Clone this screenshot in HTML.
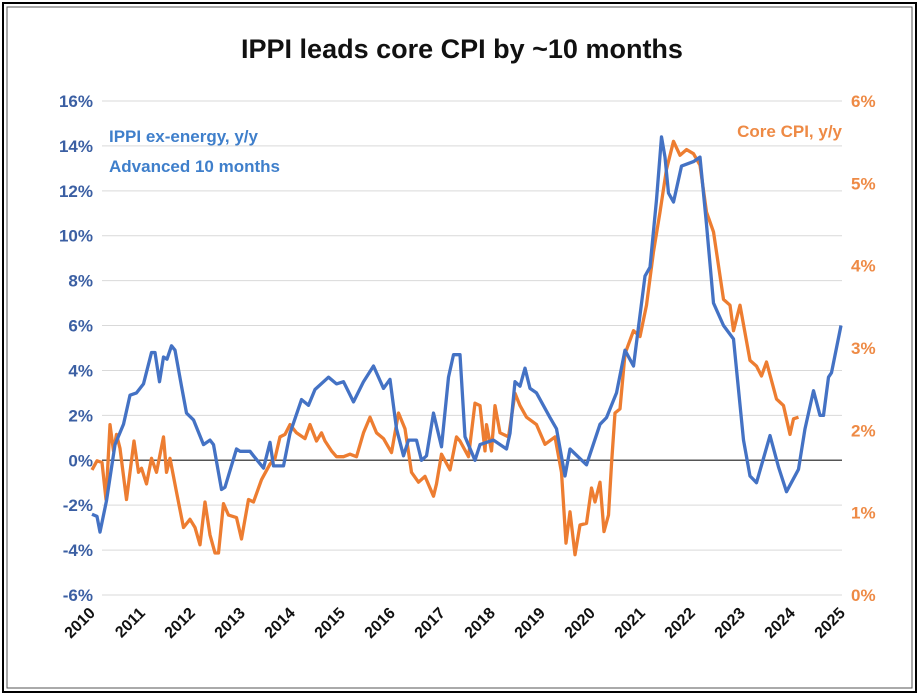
<!DOCTYPE html>
<html><head><meta charset="utf-8"><style>
html,body{margin:0;padding:0;background:#fff;}
svg{display:block;font-family:"Liberation Sans",sans-serif;}
</style></head><body>
<svg id="chart" width="920" height="698" viewBox="0 0 920 698">
<rect x="3" y="3" width="913" height="689" fill="#fff" stroke="#000" stroke-width="2"/>
<rect x="7" y="7" width="905" height="681" fill="none" stroke="#555" stroke-width="1"/>
<text x="462" y="58" text-anchor="middle" font-size="27" font-weight="bold" fill="#111">IPPI leads core CPI by ~10 months</text>
<g id="grid"></g><g id="axes"></g><g id="lines"></g>
<text x="109" y="142" font-size="17" font-weight="bold" fill="#3f7fcb">IPPI ex-energy, y/y</text>
<text x="109" y="172" font-size="17" font-weight="bold" fill="#3f7fcb">Advanced 10 months</text>
<text x="842" y="137" text-anchor="end" font-size="17" font-weight="bold" fill="#ee8a45">Core CPI, y/y</text>
</svg>
<script>
const leftTicks=[16,14,12,10,8,6,4,2,0,-2,-4,-6];
const rightTicks=[6,5,4,3,2,1,0];
const years=[2010,2011,2012,2013,2014,2015,2016,2017,2018,2019,2020,2021,2022,2023,2024,2025];
const ippiDates=[2010.0,2010.1,2010.16,2010.29,2010.46,2010.63,2010.76,2010.89,2011.03,2011.19,2011.26,2011.35,2011.43,2011.5,2011.59,2011.66,2011.79,2011.89,2012.03,2012.23,2012.36,2012.43,2012.59,2012.66,2012.89,2012.96,2013.16,2013.23,2013.43,2013.56,2013.63,2013.83,2013.96,2014.19,2014.33,2014.46,2014.73,2014.89,2015.03,2015.23,2015.43,2015.63,2015.83,2015.96,2016.09,2016.23,2016.33,2016.49,2016.59,2016.69,2016.83,2016.99,2017.13,2017.23,2017.36,2017.46,2017.66,2017.76,2018.03,2018.29,2018.36,2018.46,2018.56,2018.66,2018.76,2018.89,2019.16,2019.29,2019.46,2019.56,2019.89,2020.16,2020.29,2020.49,2020.66,2020.83,2021.06,2021.16,2021.29,2021.39,2021.46,2021.53,2021.63,2021.79,2022.03,2022.16,2022.29,2022.43,2022.63,2022.83,2023.03,2023.16,2023.29,2023.56,2023.73,2023.89,2024.13,2024.26,2024.43,2024.56,2024.63,2024.73,2024.79,2024.98];
const ippiValues=[-2.4,-2.5,-3.2,-1.8,0.7,1.6,2.9,3.0,3.4,4.8,4.8,3.5,4.6,4.5,5.1,4.9,3.3,2.1,1.8,0.7,0.9,0.7,-1.3,-1.2,0.5,0.4,0.4,0.2,-0.35,0.8,-0.25,-0.25,1.2,2.7,2.45,3.15,3.7,3.4,3.5,2.6,3.5,4.2,3.2,3.6,1.4,0.2,0.9,0.9,0,0.2,2.1,0.6,3.7,4.7,4.7,1.05,0,0.7,0.9,0.5,1.2,3.5,3.3,4.1,3.2,3.0,1.9,1.4,-0.7,0.5,-0.2,1.6,1.9,3.0,4.9,4.2,8.2,8.6,11.6,14.4,13.5,11.9,11.5,13.1,13.3,13.5,10.5,7.0,6.0,5.4,0.9,-0.7,-1.0,1.1,-0.3,-1.4,-0.4,1.4,3.1,2.0,2.0,3.7,3.9,6.0];
const cpiDates=[2010.0,2010.1,2010.2,2010.28,2010.36,2010.43,2010.49,2010.56,2010.69,2010.84,2010.93,2010.99,2011.09,2011.19,2011.29,2011.43,2011.49,2011.56,2011.69,2011.83,2011.96,2012.06,2012.16,2012.26,2012.36,2012.46,2012.53,2012.63,2012.73,2012.89,2012.99,2013.13,2013.23,2013.39,2013.56,2013.66,2013.76,2013.86,2013.96,2014.09,2014.26,2014.36,2014.49,2014.59,2014.66,2014.79,2014.89,2015.03,2015.16,2015.29,2015.43,2015.56,2015.69,2015.83,2015.99,2016.13,2016.26,2016.39,2016.53,2016.66,2016.83,2016.89,2016.99,2017.16,2017.29,2017.36,2017.53,2017.66,2017.76,2017.86,2017.89,2017.99,2018.06,2018.16,2018.33,2018.46,2018.56,2018.69,2018.89,2019.06,2019.26,2019.39,2019.48,2019.56,2019.66,2019.76,2019.89,2019.99,2020.06,2020.16,2020.24,2020.33,2020.39,2020.46,2020.56,2020.66,2020.83,2020.96,2021.09,2021.23,2021.36,2021.49,2021.63,2021.76,2021.89,2022.03,2022.16,2022.29,2022.43,2022.63,2022.76,2022.83,2022.96,2023.16,2023.29,2023.39,2023.49,2023.69,2023.83,2023.96,2024.03,2024.13];
const cpiValues=[1.52,1.63,1.61,1.16,2.07,1.75,1.95,1.78,1.16,1.87,1.49,1.54,1.35,1.66,1.49,1.92,1.49,1.66,1.25,0.82,0.92,0.82,0.61,1.13,0.73,0.51,0.51,1.11,0.97,0.94,0.68,1.16,1.13,1.4,1.59,1.66,1.92,1.95,2.07,1.97,1.9,2.07,1.87,1.97,1.87,1.75,1.68,1.68,1.71,1.68,1.97,2.16,1.97,1.9,1.73,2.21,2.02,1.49,1.37,1.44,1.2,1.35,1.71,1.52,1.92,1.87,1.68,2.33,2.3,1.75,2.07,1.75,2.3,1.97,1.92,2.45,2.3,2.16,2.07,1.83,1.92,1.49,0.63,1.01,0.49,0.85,0.87,1.3,1.13,1.37,0.77,0.97,1.59,2.21,2.26,2.93,3.21,3.14,3.52,4.17,4.65,5.17,5.51,5.34,5.41,5.36,5.22,4.65,4.41,3.59,3.52,3.21,3.52,2.85,2.78,2.66,2.83,2.38,2.3,1.95,2.14,2.16];

const NS="http://www.w3.org/2000/svg";
const X0=92,X1=842,YT=101,YB=595;
const x=t=>X0+(t-2010)/15*(X1-X0);
const yL=v=>YT+(16-v)/22*(YB-YT);
const yR=v=>YT+(6-v)/6*(YB-YT);
function mk(tag,attrs,parent,text){const e=document.createElementNS(NS,tag);for(const k in attrs)e.setAttribute(k,attrs[k]);if(text!==undefined)e.textContent=text;parent.appendChild(e);return e;}
const grid=document.getElementById('grid'),axes=document.getElementById('axes'),lines=document.getElementById('lines');
leftTicks.forEach(v=>{
  const g=mk('line',{x1:X0+10,x2:X1,y1:yL(v),y2:yL(v),stroke:v===0?'#555':'#d9d9d9','stroke-width':v===0?1.5:1},grid);
  
  
  const t=mk('text',{x:93,y:yL(v)+6,'text-anchor':'end','font-size':17,'font-weight':'bold',fill:'#3b5fa3'},axes,v+'%');
  
  
});
rightTicks.forEach(v=>{
  const t=mk('text',{x:851,y:yR(v)+6,'font-size':17,'font-weight':'bold',fill:'#ee8a45'},axes,v+'%');
  
  
});
years.forEach(yr=>{
  const px=x(yr)+4,py=614;
  const t=mk('text',{x:px,y:py,'text-anchor':'end','font-size':16,'font-weight':'bold',fill:'#111',transform:`rotate(-45 ${px} ${py})`},axes,String(yr));
  
  
});
const cp=mk('polyline',{points:cpiDates.map((d,i)=>x(d).toFixed(1)+','+yR(cpiValues[i]).toFixed(1)).join(' '),fill:'none',stroke:'#ed7d31','stroke-width':3.3,'stroke-linejoin':'round'},lines);


const ip=mk('polyline',{points:ippiDates.map((d,i)=>x(d).toFixed(1)+','+yL(ippiValues[i]).toFixed(1)).join(' '),fill:'none',stroke:'#4472c4','stroke-width':3.3,'stroke-linejoin':'round'},lines);


</script>
</body></html>
